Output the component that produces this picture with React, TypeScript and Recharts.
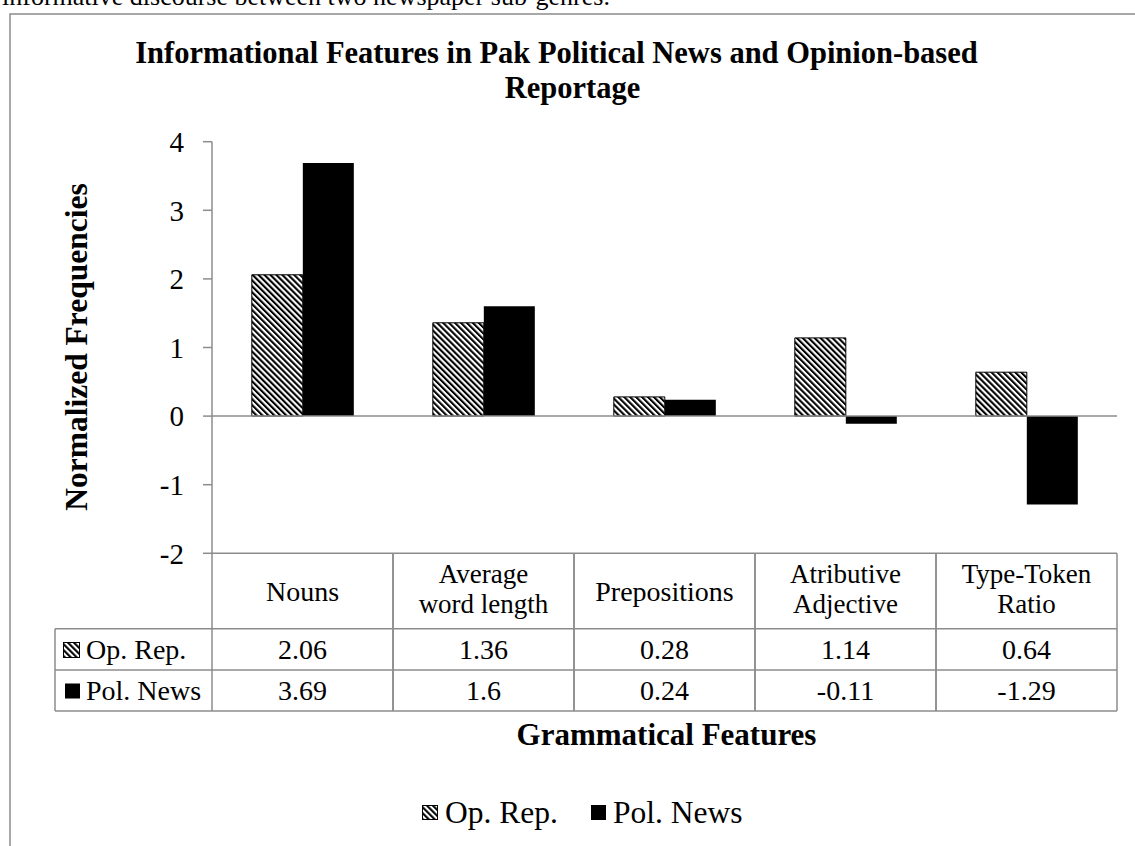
import React from 'react';
import { BarChart, Bar, XAxis, YAxis, ReferenceLine, Customized } from 'recharts';

const categories = ['Nouns', 'Average word length', 'Prepositions', 'Atributive Adjective', 'Type-Token Ratio'];
const categoryLines = [['Nouns'], ['Average', 'word length'], ['Prepositions'], ['Atributive', 'Adjective'], ['Type-Token', 'Ratio']];
const opRep = [2.06, 1.36, 0.28, 1.14, 0.64];
const polNews = [3.69, 1.6, 0.24, -0.11, -1.29];
const seriesNames = ['Op. Rep.', 'Pol. News'];
const yTicks = [-2, -1, 0, 1, 2, 3, 4];

const data = categories.map((name, i) => ({ name, opRep: opRep[i], polNews: polNews[i] }));

const FONT = '"Liberation Serif", "Times New Roman", serif';
const GRID = '#8c8c8c';
const W = 1135;
const H = 846;
const PLOT_B = 553.3;
const X_AXIS_H = 158;

// table rows below the plot, measured from the plot bottom
const HEAD_H = 75.5;
const ROW1_B = 116.7;
const ROW2_B = 157.7;

function TableTick(props: any) {
  const { x, y, payload } = props;
  const half = payload.offset || 90.5;
  let i = props.index ?? payload.index;
  if (i == null) i = categories.indexOf(payload.value);
  const lines = categoryLines[i] || [String(payload.value)];
  const l = x - half;
  const r = x + half;
  const txt = { fontFamily: FONT, fontSize: 28, fill: '#000', textAnchor: 'middle' as const };
  return (
    <g>
      <line x1={l} x2={r} y1={y} y2={y} stroke={GRID} strokeWidth={1.5} />
      <line x1={l} x2={r} y1={y + HEAD_H} y2={y + HEAD_H} stroke={GRID} strokeWidth={1.5} />
      <line x1={l} x2={r} y1={y + ROW1_B} y2={y + ROW1_B} stroke={GRID} strokeWidth={1.5} />
      <line x1={l} x2={r} y1={y + ROW2_B} y2={y + ROW2_B} stroke={GRID} strokeWidth={1.5} />
      <line x1={l} x2={l} y1={y} y2={y + ROW2_B} stroke={GRID} strokeWidth={1.5} />
      <line x1={r} x2={r} y1={y} y2={y + ROW2_B} stroke={GRID} strokeWidth={1.5} />
      {lines.length === 1 ? (
        <text x={x} y={y + 47.7} {...txt}>{lines[0]}</text>
      ) : (
        lines.map((s, k) => (
          <text key={k} x={x} y={y + 29.7 + k * 30} {...txt} fontSize={27}>{s}</text>
        ))
      )}
      <text x={x} y={y + 105.7} {...txt}>{String(opRep[i])}</text>
      <text x={x} y={y + 146.7} {...txt}>{String(polNews[i])}</text>
    </g>
  );
}

function Overlay() {
  const t = { fontFamily: FONT, fill: '#000' };
  const row1 = PLOT_B + HEAD_H;
  const row2 = PLOT_B + ROW1_B;
  const row3 = PLOT_B + ROW2_B;
  return (
    <g>
      <text x={2} y={5} {...t} fontSize={26}>informative discourse between two newspaper sub-genres.</text>
      <rect x={10} y={14} width={1200} height={900} fill="none" stroke={GRID} strokeWidth={1.5} />
      <text x={556.5} y={63} {...t} fontSize={30.5} fontWeight="bold" textAnchor="middle">
        Informational Features in Pak Political News and Opinion-based
      </text>
      <text x={572.5} y={98} {...t} fontSize={30.5} fontWeight="bold" textAnchor="middle">Reportage</text>
      <text transform="translate(87,347) rotate(-90)" {...t} fontSize={31.5} fontWeight="bold" textAnchor="middle">
        Normalized Frequencies
      </text>
      <text x={666.5} y={745} {...t} fontSize={31} fontWeight="bold" textAnchor="middle">Grammatical Features</text>

      {/* legend column of the data table */}
      <line x1={55} x2={212} y1={row1} y2={row1} stroke={GRID} strokeWidth={1.5} />
      <line x1={55} x2={212} y1={row2} y2={row2} stroke={GRID} strokeWidth={1.5} />
      <line x1={55} x2={212} y1={row3} y2={row3} stroke={GRID} strokeWidth={1.5} />
      <line x1={55} x2={55} y1={row1} y2={row3} stroke={GRID} strokeWidth={1.5} />
      <rect x={63.5} y={642.5} width={16} height={15} fill="url(#hatch)" stroke="#000" strokeWidth={1} />
      <text x={86} y={659} {...t} fontSize={28}>{seriesNames[0]}</text>
      <rect x={65} y={683.5} width={15} height={15} fill="#000" />
      <text x={86} y={700} {...t} fontSize={28}>{seriesNames[1]}</text>

      {/* bottom legend */}
      <rect x={422.5} y={805.5} width={15} height={14} fill="url(#hatch)" stroke="#000" strokeWidth={1} />
      <text x={445} y={823} {...t} fontSize={31.5}>{seriesNames[0]}</text>
      <rect x={591} y={805} width={15} height={15} fill="#000" />
      <text x={613} y={823} {...t} fontSize={31.5}>{seriesNames[1]}</text>
    </g>
  );
}

export default function App() {
  return (
    <div style={{ position: 'absolute', left: 0, top: 0, width: W, height: H, background: '#fff' }}>
      <BarChart
        width={W}
        height={H}
        data={data}
        margin={{ top: 141.7, right: 18, left: 62, bottom: H - PLOT_B - X_AXIS_H }}
        barCategoryGap="22%"
        barGap={0}
      >
        <defs>
          <pattern id="hatch" patternUnits="userSpaceOnUse" width={4.2} height={4.2} patternTransform="rotate(-45)">
            <rect x={0} y={0} width={4.2} height={4.2} fill="#fff" />
            <rect x={0} y={0} width={2.1} height={4.2} fill="#000" />
          </pattern>
        </defs>
        <XAxis
          dataKey="name"
          axisLine={false}
          tickLine={false}
          tickSize={0}
          tickMargin={0}
          height={X_AXIS_H}
          interval={0}
          tick={(p: any) => <TableTick {...p} />}
        />
        <YAxis
          domain={[-2, 4]}
          ticks={yTicks}
          interval={0}
          width={150}
          axisLine={{ stroke: GRID, strokeWidth: 1.5 }}
          tickLine={{ stroke: GRID, strokeWidth: 1.5 }}
          tickSize={9}
          tickMargin={19}
          tick={{ fontSize: 29, fill: '#000', fontFamily: FONT }}
        />
        <ReferenceLine y={0} stroke={GRID} strokeWidth={1.5} />
        <Bar dataKey="opRep" name={seriesNames[0]} fill="url(#hatch)" stroke="#000" strokeWidth={1} isAnimationActive={false} />
        <Bar dataKey="polNews" name={seriesNames[1]} fill="#000" isAnimationActive={false} />
        <Customized component={Overlay} />
      </BarChart>
    </div>
  );
}
